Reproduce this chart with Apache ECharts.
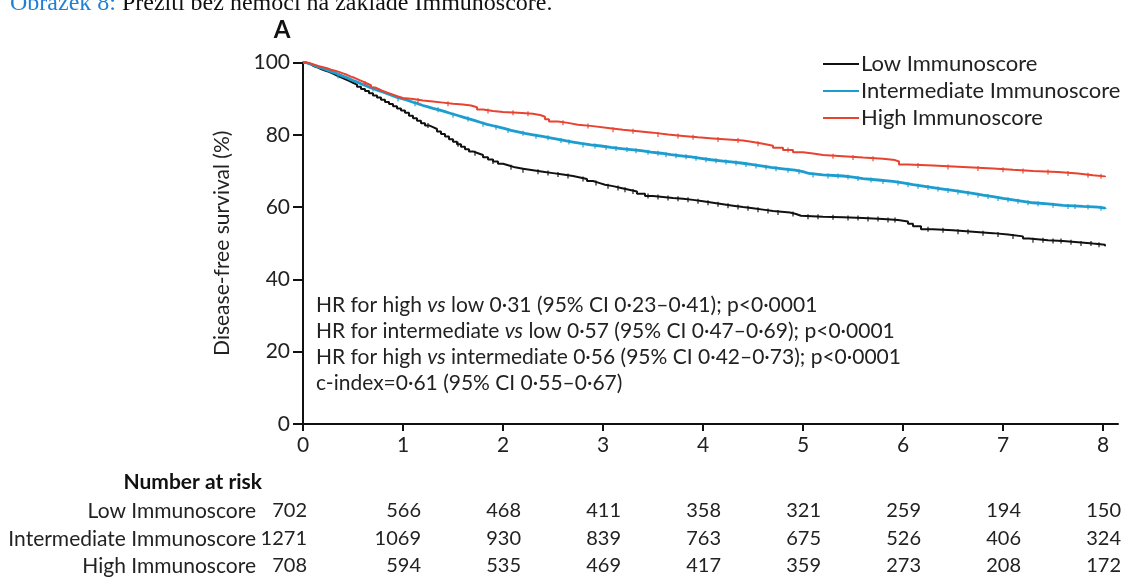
<!DOCTYPE html>
<html>
<head>
<meta charset="utf-8">
<script src="https://cdn.jsdelivr.net/npm/echarts@6/dist/echarts.min.js"></script>
<style>
  html, body { margin: 0; padding: 0; background: #fff; }
  #chart { width: 1123px; height: 581px; }
</style>
</head>
<body>
<div id="chart"></div>
<script>
// Kaplan-Meier disease-free survival by Immunoscore group (years, %)
const groupNames = ['Low Immunoscore', 'Intermediate Immunoscore', 'High Immunoscore'];

const lowTimes = [0, 0.03, 0.07, 0.1, 0.14, 0.18, 0.22, 0.26, 0.3, 0.34, 0.38, 0.42, 0.46, 0.5, 0.54, 0.58, 0.62, 0.66, 0.7, 0.74, 0.78, 0.82, 0.86, 0.9, 0.94, 0.98, 1.02, 1.06, 1.1, 1.14, 1.18, 1.22, 1.26, 1.3, 1.34, 1.38, 1.42, 1.46, 1.5, 1.54, 1.58, 1.62, 1.66, 1.7, 1.75, 1.8, 1.85, 1.9, 1.95, 2.0, 2.06, 2.12, 2.2, 2.3, 2.4, 2.5, 2.6, 2.7, 2.77, 2.84, 2.9, 2.96, 3.02, 3.1, 3.18, 3.26, 3.34, 3.42, 3.5, 3.6, 3.7, 3.8, 3.9, 4.0, 4.1, 4.2, 4.3, 4.4, 4.5, 4.6, 4.7, 4.87, 4.93, 4.98, 5.2, 5.4, 5.6, 5.8, 5.95, 6.05, 6.1, 6.18, 6.3, 6.5, 6.7, 6.9, 7.05, 7.2, 7.26, 7.45, 7.6, 7.75, 7.9, 8.02];
const lowSurv  = [100, 99.6, 99.1, 98.7, 98.2, 97.8, 97.4, 96.9, 96.4, 95.9, 95.4, 94.9, 94.4, 93.9, 93.3, 92.7, 92.1, 91.5, 90.9, 90.3, 89.7, 89.1, 88.5, 87.9, 87.3, 86.7, 86.1, 85.3, 84.6, 83.9, 83.2, 82.6, 82.1, 81.6, 80.9, 80.2, 79.5, 78.8, 78.1, 77.4, 76.7, 76.0, 75.4, 74.9, 74.4, 73.8, 73.2, 72.6, 72.0, 71.5, 71.0, 70.6, 70.2, 69.8, 69.4, 69.0, 68.6, 68.2, 67.8, 67.2, 66.7, 66.2, 65.8, 65.3, 64.8, 64.3, 63.7, 63.1, 62.8, 62.5, 62.3, 62.0, 61.6, 61.2, 60.8, 60.4, 60.0, 59.7, 59.3, 58.9, 58.5, 58.1, 57.6, 57.3, 57.2, 57.0, 56.7, 56.4, 56.0, 55.4, 54.7, 53.9, 53.6, 53.2, 52.8, 52.4, 51.9, 51.3, 50.8, 50.6, 50.3, 49.9, 49.6, 49.2];

const intTimes = [0, 0.03, 0.07, 0.11, 0.15, 0.19, 0.23, 0.27, 0.31, 0.35, 0.39, 0.43, 0.47, 0.51, 0.55, 0.59, 0.63, 0.67, 0.71, 0.75, 0.79, 0.83, 0.87, 0.91, 0.95, 1.0, 1.05, 1.1, 1.15, 1.2, 1.25, 1.3, 1.36, 1.42, 1.48, 1.54, 1.6, 1.66, 1.72, 1.78, 1.84, 1.9, 1.96, 2.02, 2.08, 2.15, 2.22, 2.3, 2.38, 2.46, 2.54, 2.62, 2.7, 2.78, 2.88, 2.98, 3.08, 3.18, 3.28, 3.38, 3.48, 3.58, 3.68, 3.78, 3.88, 3.98, 4.08, 4.18, 4.28, 4.38, 4.48, 4.58, 4.68, 4.8, 4.92, 5.0, 5.06, 5.2, 5.4, 5.5, 5.6, 5.75, 5.9, 6.0, 6.1, 6.2, 6.3, 6.4, 6.5, 6.6, 6.7, 6.8, 6.9, 7.0, 7.1, 7.2, 7.3, 7.45, 7.6, 7.8, 7.95, 8.02];
const intSurv  = [100, 99.6, 99.2, 98.8, 98.4, 98.0, 97.6, 97.2, 96.8, 96.3, 95.9, 95.4, 94.9, 94.5, 94.0, 93.6, 93.1, 92.7, 92.3, 91.9, 91.5, 91.1, 90.7, 90.3, 89.9, 89.5, 89.0, 88.6, 88.1, 87.7, 87.3, 86.9, 86.4, 85.9, 85.4, 84.9, 84.4, 83.9, 83.4, 82.9, 82.5, 82.1, 81.7, 81.2, 80.8, 80.4, 80.0, 79.6, 79.2, 78.8, 78.4, 78.0, 77.6, 77.2, 76.9, 76.5, 76.2, 75.9, 75.6, 75.2, 74.9, 74.5, 74.2, 73.9, 73.5, 73.1, 72.8, 72.5, 72.2, 71.8, 71.4, 71.0, 70.6, 70.2, 69.8, 69.3, 68.9, 68.6, 68.3, 67.9, 67.5, 67.1, 66.7, 66.2, 65.8, 65.4, 65.0, 64.6, 64.2, 63.8, 63.3, 62.9, 62.4, 62.0, 61.6, 61.2, 60.9, 60.5, 60.2, 60.0, 59.7, 59.5];

const highTimes = [0, 0.04, 0.08, 0.12, 0.16, 0.2, 0.24, 0.28, 0.32, 0.36, 0.4, 0.44, 0.48, 0.52, 0.56, 0.6, 0.64, 0.68, 0.72, 0.76, 0.8, 0.85, 0.9, 0.95, 1.0, 1.1, 1.2, 1.3, 1.4, 1.5, 1.6, 1.68, 1.74, 1.8, 1.9, 2.0, 2.15, 2.3, 2.38, 2.42, 2.46, 2.55, 2.65, 2.75, 2.9, 3.05, 3.2, 3.35, 3.5, 3.65, 3.8, 3.95, 4.1, 4.25, 4.4, 4.5, 4.6, 4.7, 4.8, 4.9, 5.0, 5.1, 5.2, 5.4, 5.6, 5.8, 5.92, 5.96, 6.05, 6.3, 6.6, 6.9, 7.1, 7.3, 7.55, 7.75, 7.9, 8.02];
const highSurv  = [100, 99.7, 99.3, 99.0, 98.7, 98.4, 98.0, 97.7, 97.4, 97.0, 96.6, 96.1, 95.7, 95.2, 94.7, 94.2, 93.7, 93.1, 92.6, 92.1, 91.6, 91.1, 90.6, 90.2, 89.9, 89.5, 89.2, 88.9, 88.6, 88.4, 88.1, 87.6, 87.0, 86.6, 86.3, 86.1, 85.8, 85.4, 85.0, 84.3, 83.7, 83.3, 82.8, 82.4, 81.9, 81.4, 81.0, 80.6, 80.1, 79.7, 79.3, 79.0, 78.7, 78.4, 78.0, 77.5, 77.0, 76.4, 75.8, 75.2, 74.8, 74.4, 74.1, 73.7, 73.4, 73.0, 72.6, 71.8, 71.5, 71.1, 70.7, 70.3, 70.0, 69.7, 69.3, 68.8, 68.5, 68.3];

// Censoring times (years)
const lowCensor  = [1.25, 1.55, 1.72, 1.9, 2.08, 2.2, 2.35, 2.45, 2.55, 2.65, 2.8, 2.93, 3.05, 3.15, 3.22, 3.3, 3.45, 3.55, 3.65, 3.75, 3.85, 3.95, 4.05, 4.15, 4.25, 4.35, 4.45, 4.55, 4.65, 4.75, 4.9, 5.05, 5.15, 5.3, 5.45, 5.55, 5.65, 5.75, 5.85, 5.92, 6.25, 6.4, 6.55, 6.65, 6.8, 6.95, 7.1, 7.3, 7.4, 7.5, 7.58, 7.68, 7.78, 7.88, 7.96];
const intCensor  = [0.35, 0.7, 0.95, 1.12, 1.35, 1.5, 1.65, 1.8, 1.93, 2.05, 2.2, 2.33, 2.45, 2.58, 2.66, 2.8, 2.92, 3.03, 3.13, 3.24, 3.33, 3.45, 3.55, 3.63, 3.73, 3.83, 3.93, 4.03, 4.13, 4.23, 4.33, 4.43, 4.53, 4.63, 4.73, 4.85, 4.96, 5.1, 5.25, 5.35, 5.45, 5.55, 5.68, 5.8, 5.95, 6.05, 6.15, 6.25, 6.35, 6.45, 6.55, 6.65, 6.75, 6.85, 6.95, 7.05, 7.15, 7.25, 7.35, 7.5, 7.65, 7.72, 7.85, 7.98];
const highCensor = [0.62, 1.15, 1.45, 1.85, 2.1, 2.25, 2.6, 2.85, 3.1, 3.3, 3.55, 3.75, 3.9, 4.15, 4.35, 4.55, 4.85, 5.3, 5.5, 5.7, 6.15, 6.45, 6.75, 7.0, 7.2, 7.45, 7.65, 7.85, 7.98];

// Number at risk at each whole year
const riskYears = [0, 1, 2, 3, 4, 5, 6, 7, 8];
const riskLow  = [702, 566, 468, 411, 358, 321, 259, 194, 150];
const riskInt  = [1271, 1069, 930, 839, 763, 675, 526, 406, 324];
const riskHigh = [708, 594, 535, 469, 417, 359, 273, 208, 172];

const statLines = [
  'HR for high {i|vs} low 0·31 (95% CI 0·23–0·41); p<0·0001',
  'HR for intermediate {i|vs} low 0·57 (95% CI 0·47–0·69); p<0·0001',
  'HR for high {i|vs} intermediate 0·56 (95% CI 0·42–0·73); p<0·0001',
  'c-index=0·61 (95% CI 0·55–0·67)'
];

const colors = ['#111111', '#1c9dcf', '#e8432f'];
const FONT = 'Lato';
const TEXT = '#222';

function pairs(ts, vs) { return ts.map((t, i) => [t, vs[i]]); }
// survival estimate in effect at time t (step function lookup)
function survAt(ts, vs, t) {
  let v = vs[0];
  for (let i = 0; i < ts.length; i++) { if (ts[i] <= t) v = vs[i]; else break; }
  return v;
}
function censorPts(cs, ts, vs) { return cs.map(t => [t, survAt(ts, vs, t)]); }

const groups = [
  { times: lowTimes, surv: lowSurv, censor: lowCensor, width: 2 },
  { times: intTimes, surv: intSurv, censor: intCensor, width: 2.8 },
  { times: highTimes, surv: highSurv, censor: highCensor, width: 2 }
];

const series = [];
groups.forEach((g, k) => {
  series.push({
    name: groupNames[k], type: 'line', step: 'end', showSymbol: false,
    data: pairs(g.times, g.surv), color: colors[k],
    lineStyle: { color: colors[k], width: g.width }, z: 3 + k
  });
  series.push({
    name: groupNames[k], type: 'scatter', symbol: 'rect', symbolSize: [1.4, 5],
    data: censorPts(g.censor, g.times, g.surv), color: colors[k],
    itemStyle: { color: colors[k] }, z: 3 + k, silent: true
  });
});

const chart = echarts.init(document.getElementById('chart'), null, { renderer: 'canvas' });
const ticks = [0, 1, 2, 3, 4, 5, 6, 7, 8];

chart.setOption({
  animation: false,
  backgroundColor: '#ffffff',
  grid: { left: 303, top: 62.5, right: 5, bottom: 157 },
  legend: {
    orient: 'vertical', left: 818, top: 48,
    icon: 'rect', itemWidth: 36, itemHeight: 2, itemGap: 5,
    data: groupNames.map((n, k) => ({ name: n, itemStyle: { color: colors[k] } })),
    textStyle: { fontFamily: FONT, fontSize: 22, color: TEXT, padding: [0, 0, 0, -3] }
  },
  xAxis: {
    type: 'value', min: 0, max: 8.15,
    axisLine: { show: true, lineStyle: { color: '#111', width: 2 } },
    axisTick: { show: true, length: 7, lineStyle: { color: '#111', width: 2 }, customValues: ticks },
    axisLabel: { customValues: ticks, fontFamily: FONT, fontSize: 21, color: TEXT, margin: 11 },
    splitLine: { show: false }
  },
  yAxis: {
    type: 'value', min: 0, max: 100, interval: 20,
    name: 'Disease-free survival (%)', nameLocation: 'middle', nameGap: 70, nameRotate: 90,
    nameTextStyle: { fontFamily: FONT, fontSize: 21, color: TEXT },
    axisLine: { show: true, lineStyle: { color: '#111', width: 2 } },
    axisTick: { show: true, length: 10, lineStyle: { color: '#111', width: 2 } },
    axisLabel: { fontFamily: FONT, fontSize: 21, color: TEXT, margin: 13 },
    splitLine: { show: false }
  },
  series: series
});

// Overlay texts: caption, panel letter, statistics and the number-at-risk table
const graphics = [];
graphics.push({
  type: 'text', left: 10, top: -8,
  style: {
    text: '{b|Obrázek 8:} Přežití bez nemoci na základě Immunoscore.',
    font: '24px "Liberation Serif"', fill: '#111',
    rich: { b: { fill: '#1f7fd6', font: '24px "Liberation Serif"' } }
  }
});
graphics.push({
  type: 'text', x: 282, y: 30,
  style: { text: 'A', font: 'bold 24px ' + FONT, fill: '#111', align: 'center', verticalAlign: 'middle' }
});
graphics.push({
  type: 'text', x: 316, y: 292,
  style: {
    text: statLines.join('\n'), font: '21px ' + FONT, fill: TEXT, lineHeight: 26,
    rich: { i: { font: 'italic 21px ' + FONT, fill: TEXT, lineHeight: 26 } }
  }
});

const rowY = [511, 539, 566];
const rowLabelRight = 256;
graphics.push({
  type: 'text', x: rowLabelRight + 6, y: 482,
  style: { text: 'Number at risk', font: 'bold 21px ' + FONT, fill: '#111', align: 'right', verticalAlign: 'middle' }
});
const riskRows = [riskLow, riskInt, riskHigh];
riskRows.forEach((row, r) => {
  graphics.push({
    type: 'text', x: rowLabelRight, y: rowY[r],
    style: { text: groupNames[r], font: '21px ' + FONT, fill: TEXT, align: 'right', verticalAlign: 'middle' }
  });
  row.forEach((n, c) => {
    const px = chart.convertToPixel({ xAxisIndex: 0 }, riskYears[c]);
    graphics.push({
      type: 'text', x: px + (c === 0 ? 4 : 18), y: rowY[r],
      style: { text: String(n), font: '20px ' + FONT, fill: TEXT, align: 'right', verticalAlign: 'middle' }
    });
  });
});

chart.setOption({ graphic: graphics });
</script>
</body>
</html>
